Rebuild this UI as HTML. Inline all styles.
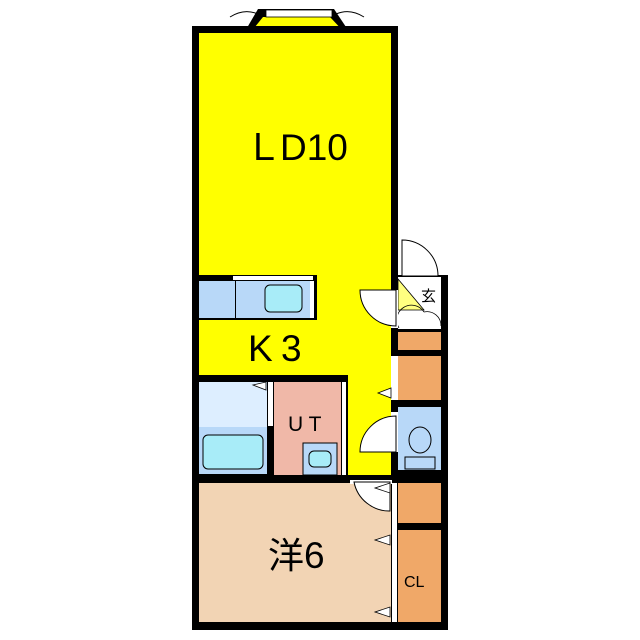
<!DOCTYPE html><html><head><style>body{margin:0;background:#fff}svg{display:block}text{font-family:"Liberation Sans","Noto Sans CJK JP",sans-serif;fill:#000}</style></head><body>
<svg width="640" height="640" viewBox="0 0 640 640" xmlns="http://www.w3.org/2000/svg">
<!-- bay window -->
<polygon points="244,33 258,9 334,9 350,33" fill="#000"/>
<polygon points="250,33 263,17 330,17 345,33" fill="#ffff00"/>
<rect x="266" y="10" width="66" height="7" fill="#fff" stroke="#000" stroke-width="0.8"/>
<path d="M230,17 Q244,8 258,14" fill="none" stroke="#000" stroke-width="1"/>
<path d="M336,14 Q350,8 364,17" fill="none" stroke="#000" stroke-width="1"/>
<!-- LDK yellow -->
<rect x="192" y="26" width="206" height="456" fill="#000"/>
<rect x="199" y="33" width="192" height="449" fill="#ffff00"/>
<!-- kitchen counter -->
<rect x="199" y="275" width="118" height="45" fill="#000"/>
<rect x="199" y="281" width="36" height="37" fill="#b8d8f8"/>
<rect x="236" y="281" width="74" height="37" fill="#b8d8f8"/>
<rect x="233" y="276" width="80" height="4" fill="#fff"/>
<rect x="310" y="281" width="4" height="37" fill="#fff"/>
<rect x="265" y="285" width="37" height="27" rx="5" fill="#a8ecf8" stroke="#000"/>
<!-- bath / UT -->
<rect x="192" y="375" width="156" height="107" fill="#000"/>
<rect x="199" y="382" width="68" height="45" fill="#ddeeff"/>
<rect x="199" y="427" width="68" height="47" fill="#b8d8f8"/>
<rect x="203" y="435" width="60" height="34" rx="5" fill="#a8ecf8" stroke="#000"/>
<rect x="268" y="382" width="5" height="44" fill="#fff"/>
<polygon points="253,385 266,382 266,390" fill="#fff" stroke="#000" stroke-width="0.8"/>
<rect x="274" y="382" width="67" height="93" fill="#f0b8a8"/>
<rect x="342" y="382" width="4" height="93" fill="#fff"/>
<rect x="303" y="443" width="34" height="32" fill="#b8d8f8" stroke="#000"/>
<rect x="309" y="451" width="22" height="16" rx="5" fill="#a8ecf8" stroke="#000"/>
<!-- bottom wall of LDK row -->
<rect x="192" y="475" width="256" height="8" fill="#000"/>
<!-- right column -->
<rect x="391" y="275" width="57" height="355" fill="#000"/>
<rect x="398" y="277" width="43" height="52" fill="#fff"/>
<polygon points="398,279 398,310 424,310" fill="#ffff80" stroke="#000" stroke-width="0.8"/>
<path d="M399,328 A14,14 0 0 1 424,312 M424,312 A14,14 0 0 1 441,326" fill="none" stroke="#000" stroke-width="0.8"/>
<rect x="398" y="332" width="43" height="18" fill="#f0a868"/>
<rect x="398" y="356" width="43" height="44" fill="#f0a868"/>
<rect x="398" y="407" width="43" height="63" fill="#b8d8f8"/>
<ellipse cx="420" cy="440" rx="11" ry="13" fill="#b8d8f8" stroke="#000"/>
<rect x="405" y="457" width="30" height="12" fill="#b8d8f8" stroke="#000"/>
<rect x="398" y="483" width="43" height="40" fill="#f0a868"/>
<rect x="398" y="530" width="43" height="92" fill="#f0a868"/>
<!-- bedroom -->
<rect x="192" y="482" width="206" height="148" fill="#000"/>
<rect x="199" y="483" width="192" height="139" fill="#f2d4b4"/>
<rect x="392" y="483" width="5" height="139" fill="#fff"/>
<!-- entrance door -->
<path d="M402,276 L402,240 A36,36 0 0 1 438,276 Z" fill="#fff" stroke="#000"/>
<!-- doors with arcs -->
<rect x="391" y="290" width="7" height="38" fill="#fff"/>
<path d="M396,290 L396,326 A36,36 0 0 1 360,290 Z" fill="#fff" stroke="#000"/>
<rect x="391" y="356" width="7" height="44" fill="#fff"/>
<polygon points="378,393 391,388 391,398" fill="#fff" stroke="#000" stroke-width="0.8"/>
<rect x="391" y="412" width="7" height="40" fill="#fff"/>
<path d="M396,452 L396,416 A36,36 0 0 0 360,452 Z" fill="#fff" stroke="#000"/>
<rect x="350" y="480" width="42" height="4" fill="#fff"/>
<path d="M354,482 L390,482 L390,511 A36,36 0 0 1 354,482 Z" fill="#fff" stroke="#000"/>
<polygon points="375,488 390,483 390,493" fill="#fff" stroke="#000" stroke-width="0.8"/>
<polygon points="375,540 390,535 390,545" fill="#fff" stroke="#000" stroke-width="0.8"/>
<polygon points="375,612 390,607 390,617" fill="#fff" stroke="#000" stroke-width="0.8"/>
<!-- labels -->
<text x="245" y="160" font-size="37">Ｌ</text>
<text x="280" y="160" font-size="37">D10</text>
<text x="248" y="361" font-size="37">K</text>
<text x="281" y="361" font-size="37">3</text>
<text x="288" y="431" font-size="21">U T</text>
<text x="268" y="568" font-size="36" font-family="Noto Sans CJK JP,sans-serif">洋</text>
<text x="304" y="568" font-size="37">6</text>
<text x="404" y="587" font-size="16">CL</text>
<text x="421" y="301" font-size="15" font-family="Noto Sans CJK JP,sans-serif">玄</text>
</svg>
</body></html>
